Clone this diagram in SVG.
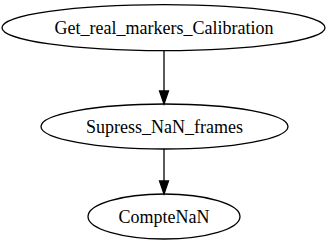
<svg xmlns="http://www.w3.org/2000/svg" width="330" height="251" viewBox="0 0 330 251">
  <style>
    .node ellipse { fill: none; stroke: #000; stroke-width: 1.3; }
    .node text { font-family: "Liberation Serif", "Times New Roman", serif; font-size: 18px; fill: #000; text-anchor: middle; }
    .edge line { stroke: #000; stroke-width: 1.3; }
    .edge polygon { fill: #000; stroke: #000; stroke-width: 1.3; }
  </style>
  <rect width="330" height="251" fill="#fff"/>
  <g id="edges">
    <g class="edge">
      <line x1="164" y1="50.7" x2="164" y2="91"/>
      <polygon points="159.5,91 168.5,91 164,104"/>
    </g>
    <g class="edge">
      <line x1="164" y1="149" x2="164" y2="181"/>
      <polygon points="159.5,181 168.5,181 164,194"/>
    </g>
  </g>
  <g id="node_calibration" class="node">
    <ellipse cx="163.5" cy="27.7" rx="161.5" ry="23"/>
    <text x="164" y="33.5">Get_real_markers_Calibration</text>
  </g>
  <g id="node_supress" class="node">
    <ellipse cx="164.5" cy="126.5" rx="123.5" ry="22.5"/>
    <text x="164.5" y="132.5">Supress_NaN_frames</text>
  </g>
  <g id="node_compte" class="node">
    <ellipse cx="164" cy="216.5" rx="76" ry="22.5"/>
    <text x="164" y="222.5">CompteNaN</text>
  </g>
</svg>
